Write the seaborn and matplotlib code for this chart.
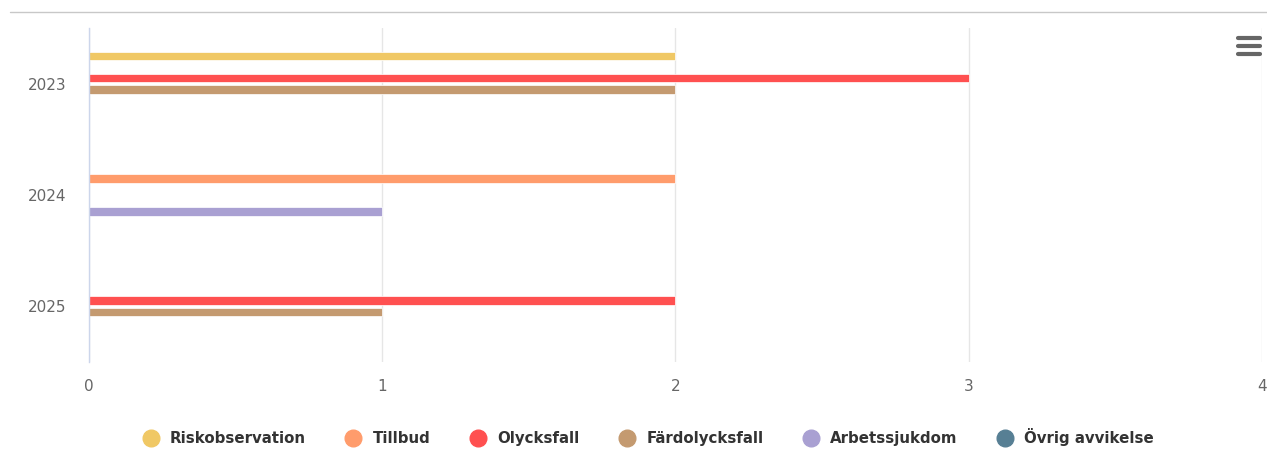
import pandas as pd
import matplotlib.pyplot as plt
import seaborn as sns
from matplotlib.lines import Line2D

years = ["2023", "2024", "2025"]
series = ["Riskobservation", "Tillbud", "Olycksfall", "Färdolycksfall",
          "Arbetssjukdom", "Övrig avvikelse"]
riskobservation = [2, 0, 0]
tillbud = [0, 2, 0]
olycksfall = [3, 0, 2]
fardolycksfall = [2, 0, 1]
arbetssjukdom = [0, 1, 0]
ovrig = [0, 0, 0]
colors = ["#F0C865", "#FF9C6C", "#FF5050", "#C49A70", "#A9A0D2", "#577F94"]
x_ticks = [0, 1, 2, 3, 4]

values = [riskobservation, tillbud, olycksfall, fardolycksfall, arbetssjukdom, ovrig]
rows = []
for name, vals in zip(series, values):
    for yr, v in zip(years, vals):
        rows.append({"Year": yr, "Typ": name, "Antal": v})
df = pd.DataFrame(rows)

sns.set_style("white")
plt.rcParams["font.family"] = ["DejaVu Sans"]

fig = plt.figure(figsize=(12.67, 4.70), dpi=100)
ax = fig.add_axes([0.0702, 0.2298, 0.9258, 0.7106])

sns.barplot(
    data=df, y="Year", x="Antal", hue="Typ", order=years, hue_order=series,
    palette=dict(zip(series, colors)), saturation=1, orient="h", width=0.6,
    gap=0.22, edgecolor="white", linewidth=0.5, legend=False, ax=ax,
)

ax.set_xlim(0, 4)
ax.set_ylim(2.5, -0.5)
ax.set_xticks(x_ticks)
ax.set_xticklabels([str(t) for t in x_ticks])
ax.grid(axis="x", color="#E6E6E6", linewidth=1)
ax.set_axisbelow(True)
ax.set_xlabel("")
ax.set_ylabel("")
ax.tick_params(axis="both", length=0, labelsize=11, labelcolor="#666666")
ax.tick_params(axis="y", pad=16)
ax.tick_params(axis="x", pad=12)
for side in ["top", "right", "bottom"]:
    ax.spines[side].set_visible(False)
ax.spines["left"].set_color("#CCD6EB")
ax.spines["left"].set_linewidth(1)

handles = [Line2D([], [], marker="o", linestyle="", markersize=12,
                  markerfacecolor=c, markeredgecolor=c) for c in colors]
fig.legend(handles, series, loc="center", bbox_to_anchor=(0.509, 0.070),
           ncol=6, frameon=False, handletextpad=0.3, columnspacing=2.15,
           prop={"weight": "bold", "size": 10.8}, labelcolor="#333333")

# top separator line and menu icon
fig.add_artist(Line2D([0.008, 1.0], [1 - 12 / 470] * 2, color="#C8C8C8",
                      linewidth=1, transform=fig.transFigure))
for yy in [38, 46, 54]:
    fig.add_artist(Line2D([1238 / 1267, 1260 / 1267], [1 - yy / 470] * 2,
                          color="#666666", linewidth=3,
                          solid_capstyle="round", transform=fig.transFigure))

fig.savefig("out.png", dpi=100)
